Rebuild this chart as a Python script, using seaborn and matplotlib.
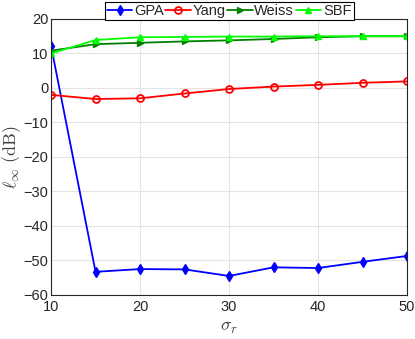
import pandas as pd
import matplotlib
matplotlib.use("Agg")
import matplotlib.pyplot as plt
import seaborn as sns

sigma_r = [10, 15, 20, 25, 30, 35, 40, 45, 50]
gpa = [12.2, -53.3, -52.5, -52.6, -54.5, -52.0, -52.2, -50.4, -48.7]
yang = [-2.0, -3.2, -3.0, -1.6, -0.3, 0.4, 0.9, 1.5, 1.9]
weiss = [10.8, 12.7, 13.1, 13.5, 13.8, 14.2, 14.7, 15.0, 15.0]
sbf = [10.0, 13.9, 14.7, 14.8, 14.9, 14.9, 15.0, 15.0, 15.0]
methods = ["GPA", "Yang", "Weiss", "SBF"]

df = pd.DataFrame({"sigma": sigma_r * 4,
                   "val": gpa + yang + weiss + sbf,
                   "method": [m for m in methods for _ in sigma_r]})

sns.set_style("whitegrid")
plt.rcParams['font.family'] = ['Liberation Sans', 'DejaVu Sans']
plt.rcParams['mathtext.fontset'] = 'cm'

colors = {"GPA": "#0000ff", "Yang": "#ff0000", "Weiss": "#008000", "SBF": "#00ff00"}
markers = {"GPA": "d", "Yang": "o", "Weiss": ">", "SBF": "^"}

fig = plt.figure(figsize=(4.15, 3.39), dpi=100)
ax = fig.add_axes([0.123, 0.130, 0.858, 0.814])
sns.lineplot(data=df, x="sigma", y="val", hue="method", style="method",
             palette=colors, markers=markers, dashes=False, linewidth=1.3,
             markersize=5, ax=ax)

ax.set_xlim(10, 50)
ax.set_ylim(-60, 20)
ax.set_xticks(range(10, 51, 10))
ax.set_yticks(range(-60, 21, 10))
ax.tick_params(labelsize=10.5, colors="#262626", length=3, direction="in")
ax.tick_params(axis="y", pad=2)
ax.tick_params(axis="x", pad=4)
ax.grid(color="#e3e3e3", linewidth=0.8)
for s in ax.spines.values():
    s.set_color("#262626")
    s.set_linewidth(0.8)
ax.set_xlabel(r"$\sigma_r$", fontsize=13, color="#404040", labelpad=3)
ax.set_ylabel(r"$\ell_\infty\ \mathrm{(dB)}$", fontsize=13, color="#404040")
ax.yaxis.set_label_coords(-0.08, 0.5)

leg = ax.legend(loc="center", bbox_to_anchor=(0.5, 1.029), ncol=4, fontsize=10.5,
                frameon=True, fancybox=False, edgecolor="black", framealpha=1,
                handlelength=1.75, columnspacing=0.1, handletextpad=0.12,
                borderpad=0.15, borderaxespad=0)
leg.get_frame().set_linewidth(0.8)

for line in list(ax.lines) + list(leg.get_lines()):
    c = line.get_color()
    line.set_markeredgecolor(c)
    line.set_markeredgewidth(1.0)
    if line.get_marker() == "o":
        line.set_markerfacecolor("none")
        line.set_markeredgewidth(1.3)

fig.savefig("out.png", dpi=100)
